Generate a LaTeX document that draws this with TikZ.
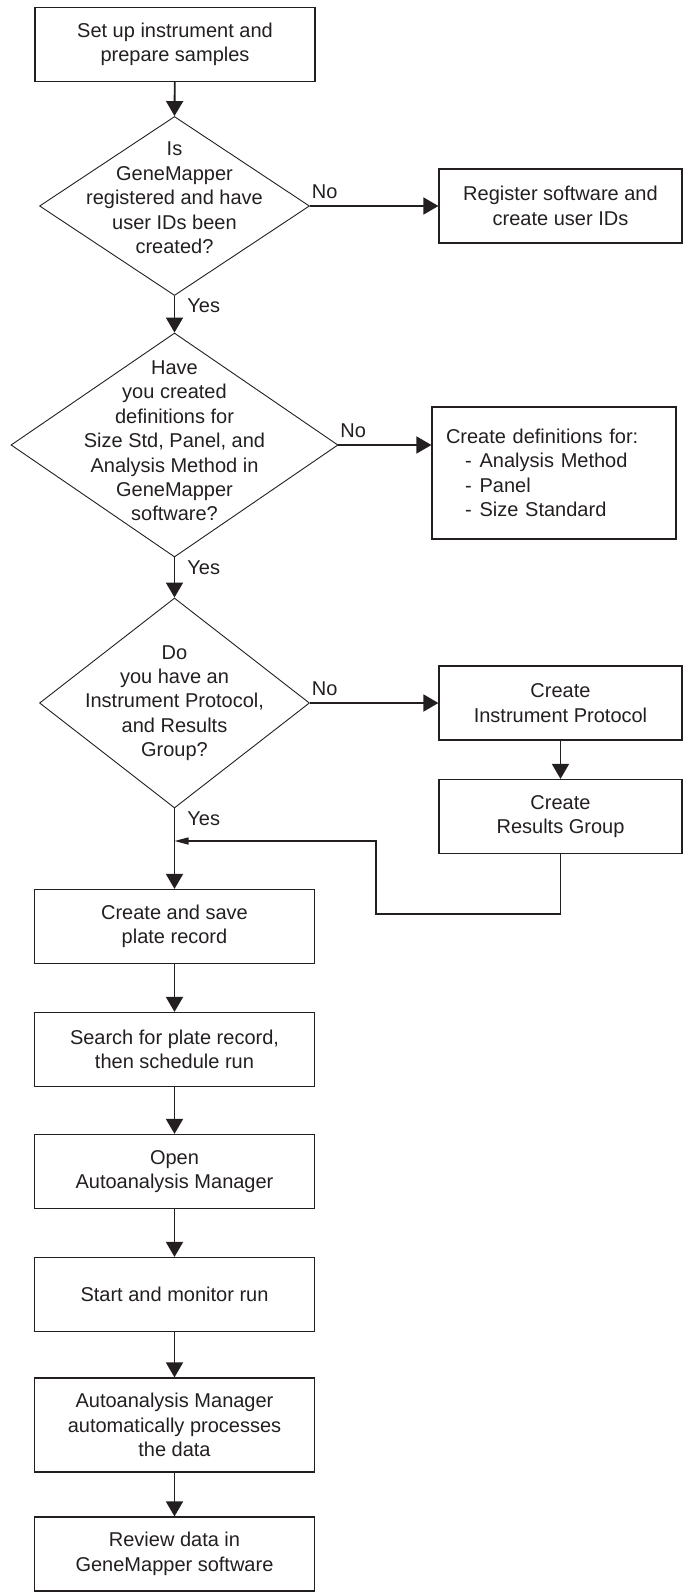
\documentclass[tikz,border=0pt]{standalone}
\usepackage{fontspec}
\setmainfont{Liberation Sans}
\usepackage{tikz}
\usetikzlibrary{shapes.geometric, arrows.meta, positioning}
\definecolor{flowink}{RGB}{35, 31, 32}

\tikzset{
  stepbox/.style={draw=flowink, line width=0.6pt, rectangle, minimum width=140pt, minimum height=37pt, align=center, inner sep=2pt, text=flowink},
  sidebox/.style={stepbox, minimum width=121.5pt},
  decision/.style={draw=flowink, line width=0.45pt, diamond, inner sep=0pt},
  qtext/.style={align=center, text=flowink, inner sep=0pt},
  flow/.style={draw=flowink, line width=0.9pt, -{Triangle[width=8.5pt,length=7.5pt]}},
  backflow/.style={draw=flowink, line width=0.7pt, -{Triangle[width=3.5pt,length=7pt]}},
  noanswer/.style={above right, text=flowink, inner xsep=0.5pt, inner ysep=3pt},
  yesanswer/.style={anchor=north west, xshift=5pt, text=flowink, inner sep=1pt}
}

\begin{document}
\begin{tikzpicture}[x=0.5pt, y=-0.5pt, font=\fontsize{10}{12.2}\selectfont]
    \useasboundingbox (0,0) rectangle (687,1595);

    % Questions (left column)
    \node[stepbox] (setup) at (175, 44.5) {Set up instrument and\\prepare samples};
    \node[decision, minimum width=135pt, minimum height=89.5pt] (d1) at (174.5, 206) {};
    \node[qtext] (d1text) at ([yshift=4pt]d1.center) {Is\\GeneMapper\\registered and have\\user IDs been\\created?};
    \node[decision, minimum width=163.5pt, minimum height=112pt] (d2) at (174.5, 445) {};
    \node[qtext] (d2text) at ([yshift=2pt]d2.center) {Have\\you created\\definitions for\\Size Std, Panel, and\\Analysis Method in\\GeneMapper\\software?};
    \node[decision, minimum width=135pt, minimum height=105pt] (d3) at (174.5, 703) {};
    \node[qtext] (d3text) at (d3.center) {Do\\you have an\\Instrument Protocol,\\and Results\\Group?};

    % Answers "No" (right column)
    \node[sidebox] (register) at (560.5, 206) {Register software and\\create user IDs};
    \node[sidebox, minimum width=122pt, minimum height=66pt, text width=108pt, inner xsep=6pt, align=left] (definitions) at (554, 473)
        {Create definitions for:\\\hspace*{9.5pt}-\hspace{4pt}Analysis Method\\\hspace*{9.5pt}-\hspace{4pt}Panel\\\hspace*{9.5pt}-\hspace{4pt}Size Standard};
    \node[sidebox] (protocol) at (560.5, 703) {Create\\Instrument Protocol};
    \node[sidebox] (results) at (560.5, 816.5) {Create\\Results Group};

    % Run steps
    \node[stepbox] (plate) at (174.5, 926.5) {Create and save\\plate record};
    \node[stepbox] (search) at (174.5, 1049.5) {Search for plate record,\\then schedule run};
    \node[stepbox] (open) at (174.5, 1171.5) {Open\\Autoanalysis Manager};
    \node[stepbox] (start) at (174.5, 1294.5) {Start and monitor run};
    \node[stepbox, minimum height=47pt] (auto) at (174.5, 1425) {Autoanalysis Manager\\automatically processes\\the data};
    \node[stepbox] (review) at (174.5, 1554) {Review data in\\GeneMapper software};

    \coordinate (join) at (174.5, 841);
    \coordinate (fbcorner) at (376, 914);

    % Connectors
    \draw[flow] (setup) -- (d1.north);
    \draw[flow] (d1.south) -- node[pos=0, yesanswer] {Yes} (d2.north);
    \draw[flow] (d2.south) -- node[pos=0, yesanswer] {Yes} (d3.north);
    \draw[flow] (d3.south) -- node[pos=0, yesanswer] {Yes} (plate.north);
    \draw[flow] (d1.east) -- node[pos=0, noanswer] {No} (register.west);
    \draw[flow] (d2.east) -- node[pos=0, noanswer] {No} (d2.east -| definitions.west);
    \draw[flow] (d3.east) -- node[pos=0, noanswer] {No} (protocol.west);
    \draw[flow] (protocol) -- (results);
    \draw[backflow] (results.south) |- (fbcorner) -- (fbcorner |- join) -- (join);
    \draw[flow] (plate) -- (search);
    \draw[flow] (search) -- (open);
    \draw[flow] (open) -- (start);
    \draw[flow] (start) -- (auto);
    \draw[flow] (auto) -- (review);
\end{tikzpicture}
\end{document}
